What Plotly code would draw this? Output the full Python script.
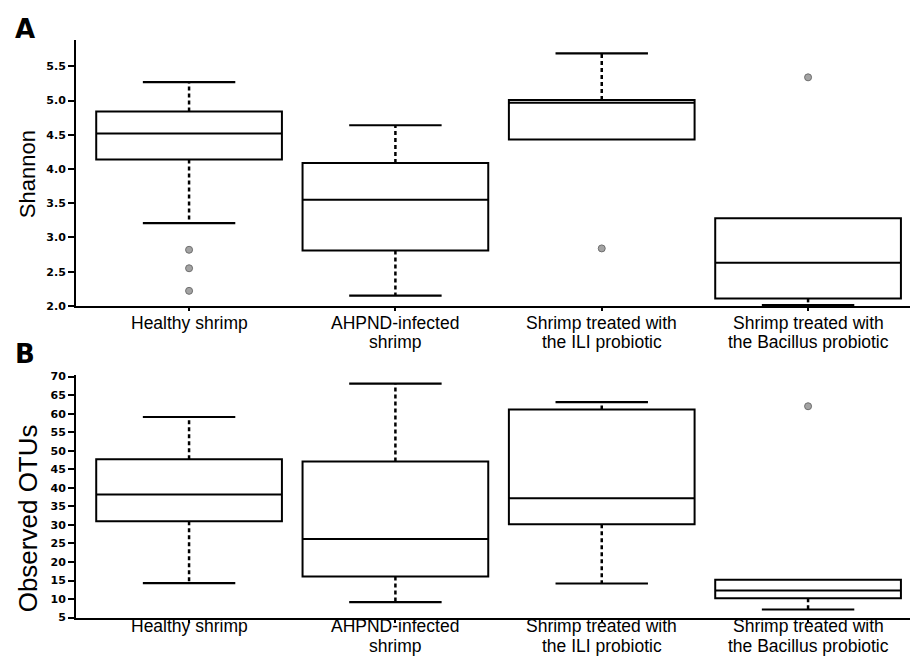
import plotly.graph_objects as go

# ---------------- data ----------------
groups = ["Healthy shrimp", "AHPND-infected shrimp",
          "Shrimp treated with the ILI probiotic",
          "Shrimp treated with the Bacillus probiotic"]
label_lines = [["Healthy shrimp"], ["AHPND-infected", "shrimp"],
               ["Shrimp treated with", "the ILI probiotic"],
               ["Shrimp treated with", "the Bacillus probiotic"]]

shannon_q1 = [4.14, 2.81, 4.43, 2.11]
shannon_median = [4.52, 3.55, 4.97, 2.63]
shannon_q3 = [4.84, 4.09, 5.01, 3.28]
shannon_lower = [3.21, 2.15, 4.43, 2.01]
shannon_upper = [5.27, 4.64, 5.69, 3.28]
shannon_outliers = [[2.82, 2.55, 2.22], [], [2.84], [5.34]]

otus_q1 = [31.0, 16.1, 30.2, 10.2]
otus_median = [38.2, 26.2, 37.2, 12.3]
otus_q3 = [47.7, 47.1, 61.1, 15.2]
otus_lower = [14.3, 9.2, 14.2, 7.2]
otus_upper = [59.1, 68.1, 63.1, 15.2]
otus_outliers = [[], [], [], [62.0]]

shannon_ticks = [2.0, 2.5, 3.0, 3.5, 4.0, 4.5, 5.0, 5.5]
otus_ticks = [5, 10, 15, 20, 25, 30, 35, 40, 45, 50, 55, 60, 65, 70]

# ---------------- layout constants ----------------
W, H = 910, 662
L = 76
PW = W - L
BOX_W = 0.9
CAP_HALF = 0.224
positions = list(range(len(groups)))


def px_x(px):
    return (px - L) / PW


def px_y(py):
    return (H - py) / H


fig = go.Figure()


def add_panel(q1, med, q3, lo, up, outl, xa, ya):
    fig.add_trace(go.Box(
        x=positions, q1=q1, median=med, q3=q3,
        lowerfence=q1, upperfence=q3,
        width=BOX_W, whiskerwidth=0, boxpoints=False,
        fillcolor="white", line=dict(color="black", width=2),
        xaxis=xa, yaxis=ya, showlegend=False, hoverinfo="skip"))
    wx, wy, cx, cy = [], [], [], []
    for p, a, b, c, d in zip(positions, q1, q3, lo, up):
        if d > b:
            wx += [p, p, None]; wy += [b, d, None]
            cx += [p - CAP_HALF, p + CAP_HALF, None]; cy += [d, d, None]
        if c < a:
            wx += [p, p, None]; wy += [a, c, None]
            cx += [p - CAP_HALF, p + CAP_HALF, None]; cy += [c, c, None]
    fig.add_trace(go.Scatter(x=wx, y=wy, mode="lines", xaxis=xa, yaxis=ya,
                             line=dict(color="black", width=2.5, dash="4px,3px"),
                             showlegend=False, hoverinfo="skip"))
    fig.add_trace(go.Scatter(x=cx, y=cy, mode="lines", xaxis=xa, yaxis=ya,
                             line=dict(color="black", width=2.2),
                             showlegend=False, hoverinfo="skip"))
    ox, oy = [], []
    for p, vals in zip(positions, outl):
        for v in vals:
            ox.append(p); oy.append(v)
    fig.add_trace(go.Scatter(x=ox, y=oy, mode="markers", xaxis=xa, yaxis=ya,
                             marker=dict(size=7, color="#a3a3a3",
                                         line=dict(color="#6e6e6e", width=1)),
                             showlegend=False, hoverinfo="skip"))


add_panel(shannon_q1, shannon_median, shannon_q3, shannon_lower, shannon_upper,
          shannon_outliers, "x", "y")
add_panel(otus_q1, otus_median, otus_q3, otus_lower, otus_upper,
          otus_outliers, "x2", "y2")

tickfont = dict(family="DejaVu Sans", size=11, color="black", weight="bold")
xcommon = dict(range=[-0.548, 3.494], domain=[0, 1], showline=True,
               linecolor="black", linewidth=2, ticks="outside", ticklen=3,
               tickwidth=2, tickcolor="black", tickvals=positions,
               showticklabels=False, showgrid=False, zeroline=False)
ycommon = dict(showline=True, linecolor="black", linewidth=2, ticks="outside",
               ticklen=6, tickwidth=2, tickcolor="black", tickfont=tickfont,
               showgrid=False, zeroline=False)

fig.update_layout(
    width=W, height=H, autosize=False,
    margin=dict(l=L, r=0, t=0, b=0),
    plot_bgcolor="white", paper_bgcolor="white",
    xaxis=dict(anchor="y", **xcommon),
    yaxis=dict(anchor="x", domain=[px_y(307), px_y(37)], range=[2.0, 5.88],
               tickvals=shannon_ticks, ticktext=[f"{v:.1f}" for v in shannon_ticks],
               **ycommon),
    xaxis2=dict(anchor="y2", **xcommon),
    yaxis2=dict(anchor="x2", domain=[px_y(624), px_y(377)], range=[5, 70.5],
                tickvals=otus_ticks, ticktext=[str(v) for v in otus_ticks],
                **ycommon),
)

ann = []
labfont = dict(family="Liberation Sans, Arial, sans-serif", size=17.5, color="black")
for xa, centers in (("x", [324, 344]), ("x2", [633, 652.5])):
    for p, lines in zip(positions, label_lines):
        for k, t in enumerate(lines):
            ann.append(dict(text=t, x=p, xref=xa, y=px_y(centers[k]), yref="paper",
                            xanchor="center", yanchor="middle", showarrow=False,
                            font=labfont))

titlefont = dict(family="Liberation Sans, Arial, sans-serif", size=22, color="black")
ann.append(dict(text="Shannon", x=px_x(27), y=px_y(173), xref="paper", yref="paper",
                textangle=-90, showarrow=False, xanchor="center", yanchor="middle",
                font=titlefont))
ann.append(dict(text="Observed OTUs", x=px_x(28), y=px_y(523), xref="paper", yref="paper",
                textangle=-90, showarrow=False, xanchor="center", yanchor="middle",
                font=dict(titlefont, size=26)))
panelfont = dict(family="DejaVu Sans", size=26, color="black", weight="bold")
ann.append(dict(text="A", x=px_x(25), y=px_y(25), xref="paper", yref="paper",
                showarrow=False, xanchor="center", yanchor="middle", font=panelfont))
ann.append(dict(text="B", x=px_x(25), y=px_y(356), xref="paper", yref="paper",
                showarrow=False, xanchor="center", yanchor="middle", font=panelfont))
fig.update_layout(annotations=ann)

fig.write_html("out.html", config={"displayModeBar": False},
               post_script="document.body.style.margin='0px';"
                           "document.body.style.overflow='hidden';")
